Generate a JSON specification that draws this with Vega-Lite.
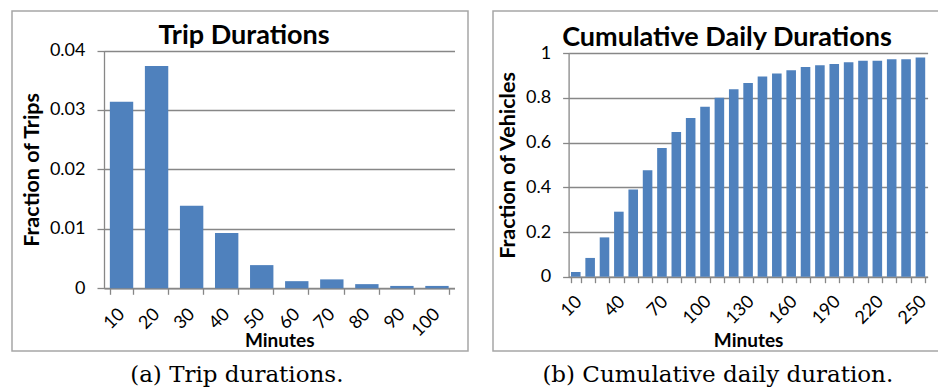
{
  "$schema": "https://vega.github.io/schema/vega-lite/v6.json",
  "padding": {"left": 4, "top": 10, "right": 0, "bottom": 0},
  "autosize": {"type": "pad"},
  "spacing": 16,
  "datasets": {
    "trips": [
      {"minutes": 10, "fraction": 0.0314},
      {"minutes": 20, "fraction": 0.0374},
      {"minutes": 30, "fraction": 0.0139},
      {"minutes": 40, "fraction": 0.0093},
      {"minutes": 50, "fraction": 0.0039},
      {"minutes": 60, "fraction": 0.0012},
      {"minutes": 70, "fraction": 0.0015},
      {"minutes": 80, "fraction": 0.0007},
      {"minutes": 90, "fraction": 0.0004},
      {"minutes": 100, "fraction": 0.0004}
    ],
    "daily": [
      {"minutes": 10, "fraction": 0.021},
      {"minutes": 20, "fraction": 0.084},
      {"minutes": 30, "fraction": 0.176},
      {"minutes": 40, "fraction": 0.291},
      {"minutes": 50, "fraction": 0.390},
      {"minutes": 60, "fraction": 0.476},
      {"minutes": 70, "fraction": 0.576},
      {"minutes": 80, "fraction": 0.648},
      {"minutes": 90, "fraction": 0.710},
      {"minutes": 100, "fraction": 0.761},
      {"minutes": 110, "fraction": 0.801},
      {"minutes": 120, "fraction": 0.839},
      {"minutes": 130, "fraction": 0.867},
      {"minutes": 140, "fraction": 0.896},
      {"minutes": 150, "fraction": 0.910},
      {"minutes": 160, "fraction": 0.924},
      {"minutes": 170, "fraction": 0.939},
      {"minutes": 180, "fraction": 0.946},
      {"minutes": 190, "fraction": 0.952},
      {"minutes": 200, "fraction": 0.960},
      {"minutes": 210, "fraction": 0.967},
      {"minutes": 220, "fraction": 0.967},
      {"minutes": 230, "fraction": 0.973},
      {"minutes": 240, "fraction": 0.973},
      {"minutes": 250, "fraction": 0.981}
    ]
  },
  "hconcat": [
    {
      "title": {
        "text": "(a) Trip durations.", "orient": "bottom", "frame": "bounds", "offset": 12, "dx": 0,
        "font": "DejaVu Serif", "fontSize": 23, "fontWeight": "normal"
      },
      "hconcat": [
        {
          "width": 456,
          "height": 340,
          "title": {"text": "Trip Durations", "offset": -39, "dx": 4},
          "data": {"name": "trips"},
          "mark": {"type": "bar", "color": "#4F81BD"},
          "encoding": {
            "x": {
              "field": "minutes",
              "type": "ordinal",
              "scale": {"range": [92, 442.5], "paddingInner": 0.333, "paddingOuter": 0.1667},
              "axis": {
                "title": "Minutes",
                "offset": -62.7,
                "labelAngle": -45,
                "labelAlign": "right",
                "labelBaseline": "middle",
                "labelPadding": 17,
                "tickSize": 6,
                "tickBand": "extent",
                "titlePadding": -8,
                "grid": false
              }
            },
            "y": {
              "field": "fraction",
              "type": "quantitative",
              "scale": {"domain": [0, 0.04], "range": [277.3, 39.5], "nice": false},
              "axis": {
                "title": "Fraction of Trips",
                "titleFontSize": 21.5,
                "offset": -92,
                "values": [0, 0.01, 0.02, 0.03, 0.04],
                "format": ".2~f",
                "tickSize": 7,
                "labelPadding": 12,
                "titlePadding": 6,
                "grid": true
              }
            }
          }
        }
      ]
    },
    {
      "title": {
        "text": "(b) Cumulative daily duration.", "orient": "bottom", "frame": "bounds", "offset": 12, "dx": 5,
        "font": "DejaVu Serif", "fontSize": 23, "fontWeight": "normal"
      },
      "hconcat": [
        {
          "width": 446,
          "height": 340,
          "title": {"text": "Cumulative Daily Durations", "offset": -41, "dx": 11},
          "data": {"name": "daily"},
          "mark": {"type": "bar", "color": "#4F81BD"},
          "encoding": {
            "x": {
              "field": "minutes",
              "type": "ordinal",
              "scale": {"range": [75.6, 434.6], "paddingInner": 0.333, "paddingOuter": 0.1667},
              "axis": {
                "title": "Minutes",
                "offset": -74.3,
                "labelAngle": -45,
                "labelAlign": "right",
                "labelBaseline": "middle",
                "labelPadding": 16,
                "labelOffset": 3,
                "tickSize": 6,
                "tickBand": "extent",
                "titlePadding": 4,
                "labelExpr": "datum.value % 30 == 10 ? datum.label : ''",
                "grid": false
              }
            },
            "y": {
              "field": "fraction",
              "type": "quantitative",
              "scale": {"domain": [0, 1], "range": [265.7, 42.3], "nice": false},
              "axis": {
                "title": "Fraction of Vehicles",
                "titleFontSize": 21.5,
                "offset": -75.6,
                "values": [0, 0.2, 0.4, 0.6, 0.8, 1],
                "format": ".1~f",
                "tickSize": 6,
                "labelPadding": 12,
                "titlePadding": 6,
                "grid": true
              }
            }
          }
        }
      ]
    }
  ],
  "config": {
    "font": "Lato",
    "view": {"stroke": "#a6a6a6", "strokeWidth": 1.5},
    "axis": {
      "domainColor": "#878787",
      "domainWidth": 1.3,
      "gridColor": "#878787",
      "gridWidth": 1.3,
      "tickColor": "#878787",
      "tickWidth": 1.3,
      "labelColor": "#000000",
      "labelFont": "Lato",
      "labelFontSize": 18,
      "labelOverlap": false,
      "titleFont": "Lato",
      "titleFontSize": 19,
      "titleFontWeight": "bold",
      "titleColor": "#000000"
    },
    "title": {
      "font": "Lato",
      "fontSize": 27,
      "fontWeight": "bold",
      "color": "#000000",
      "anchor": "middle",
      "frame": "group",
      "baseline": "alphabetic"
    },
    "concat": {"spacing": 16}
  }
}
